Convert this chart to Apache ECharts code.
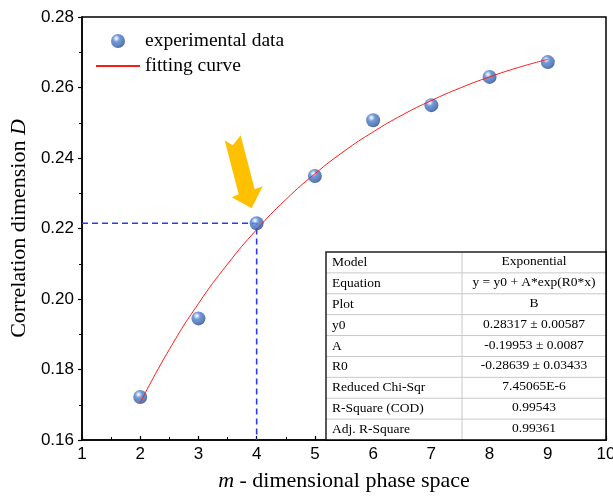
<!DOCTYPE html>
<html>
<head>
  <meta charset="utf-8">
  <title>Correlation dimension</title>
  <script src="https://cdn.jsdelivr.net/npm/echarts@6/dist/echarts.min.js"></script>
  <style>
    html, body { margin: 0; padding: 0; background: #fff; }
  </style>
</head>
<body>
<div id="main" style="width: 613px;height:498px;"></div>
<script type="text/javascript">
  // measured points
  var mDims = [2, 3, 4, 5, 6, 7, 8, 9];
  var corrDim = [0.1722, 0.1945, 0.2215, 0.2349, 0.2507, 0.2550, 0.2630, 0.2672];

  // fitted curve
  var fitX = [2, 2.5, 3, 3.5, 4, 4.5, 5, 5.5, 6, 6.5, 7, 7.5, 8, 8.5, 9];
  var fitY = [0.1706, 0.1857, 0.1987, 0.2099, 0.2197, 0.2282, 0.2355, 0.2419,
              0.2474, 0.2522, 0.2563, 0.2599, 0.2630, 0.2657, 0.2680];

  // the marked point (guide lines)
  var markX = 4;
  var markY = 0.2215;

  var yTicks = ['0.16', '0.18', '0.20', '0.22', '0.24', '0.26', '0.28'];

  // fit report
  var tableLabels = ['Model', 'Equation', 'Plot', 'y0', 'A', 'R0',
                     'Reduced Chi-Sqr', 'R-Square (COD)', 'Adj. R-Square'];
  var tableValues = ['Exponential', 'y = y0 + A*exp(R0*x)', 'B',
                     '0.28317 \u00b1 0.00587', '-0.19953 \u00b1 0.0087', '-0.28639 \u00b1 0.03433',
                     '7.45065E-6', '0.99543', '0.99361'];

  var serif = '"Liberation Serif", "DejaVu Serif", serif';
  var sans = '"Liberation Sans", Arial, sans-serif';

  var sphere = {
    type: 'radial', x: 0.38, y: 0.32, r: 0.72,
    colorStops: [
      { offset: 0, color: '#ffffff' },
      { offset: 0.12, color: '#c9d8f2' },
      { offset: 0.35, color: '#4f7fcc' },
      { offset: 0.75, color: '#3763b0' },
      { offset: 1, color: '#213f78' }
    ]
  };

  var myChart = echarts.init(document.getElementById('main'));

  var option = {
    animation: false,
    grid: {
      left: 82, right: 7, top: 17, bottom: 58,
      outerBoundsMode: 'none',
      show: true, borderColor: '#000', borderWidth: 1.5
    },
    legend: {
      orient: 'vertical',
      left: 90, top: 26,
      itemWidth: 44, itemHeight: 14, itemGap: 5,
      textStyle: { fontFamily: serif, fontSize: 19.5, color: '#000' },
      data: [
        { name: 'experimental data', icon: 'circle' },
        { name: 'fitting curve', itemStyle: { opacity: 0 } }
      ]
    },
    xAxis: {
      type: 'value',
      min: 1, max: 10, interval: 1,
      name: '{i|m}{n| - dimensional phase space}',
      nameLocation: 'middle',
      nameGap: 30,
      nameTextStyle: {
        rich: {
          i: { fontFamily: serif, fontSize: 22, fontStyle: 'italic', color: '#000' },
          n: { fontFamily: serif, fontSize: 22, color: '#000' }
        }
      },
      axisLine: { lineStyle: { color: '#000', width: 1.5 } },
      axisTick: { inside: true, length: 4, lineStyle: { color: '#000', width: 1.2 } },
      minorTick: { show: true, splitNumber: 2, length: 3, lineStyle: { color: '#000', width: 1 } },
      axisLabel: { fontFamily: sans, fontSize: 17, color: '#000', margin: 6, showMaxLabel: true },
      splitLine: { show: false }
    },
    yAxis: {
      type: 'value',
      min: 0.16, max: 0.28, interval: 0.02,
      name: '{n|Correlation dimension }{i|D}',
      nameLocation: 'middle',
      nameGap: 42,
      nameTextStyle: {
        rich: {
          i: { fontFamily: serif, fontSize: 22, fontStyle: 'italic', color: '#000' },
          n: { fontFamily: serif, fontSize: 22, color: '#000' }
        }
      },
      axisLine: { show: true, lineStyle: { color: '#000', width: 1.5 } },
      axisTick: { show: true, inside: false, length: 4, lineStyle: { color: '#000', width: 1.2 } },
      minorTick: { show: true, splitNumber: 2, length: 3, lineStyle: { color: '#000', width: 1 } },
      axisLabel: {
        fontFamily: sans, fontSize: 17, color: '#000', margin: 8,
        formatter: function (v) {
          var i = Math.round((v - 0.16) / 0.02);
          return yTicks[i] !== undefined ? yTicks[i] : v.toFixed(2);
        }
      },
      splitLine: { show: false }
    },
    series: [
      {
        name: 'guide',
        type: 'line',
        data: [[1, markY], [markX, markY], [markX, 0.16]],
        symbol: 'none',
        silent: true,
        lineStyle: { color: '#2a3cf0', width: 1.6, type: [6, 4] },
        z: 1
      },
      {
        name: 'fitting curve',
        type: 'line',
        smooth: true,
        symbol: 'none',
        data: fitX.map(function (x, i) { return [x, fitY[i]]; }),
        lineStyle: { color: '#ff1a1a', width: 1 },
        itemStyle: { color: '#ff1a1a' },
        z: 3
      },
      {
        name: 'experimental data',
        type: 'scatter',
        symbolSize: 14,
        data: mDims.map(function (x, i) { return [x, corrDim[i]]; }),
        itemStyle: { color: sphere },
        z: 2
      }
    ]
  };

  myChart.setOption(option);

  // arrow pointing at the marked point, and the fit table
  var p = myChart.convertToPixel({ gridIndex: 0 }, [markX, markY]);
  var tip = [p[0] - 5, p[1] - 15];
  var arrowShape = [[0, 0], [-20, -11], [-13, -14], [-27, -68], [-19, -63], [-11, -73], [3, -19], [11, -22]];

  var graphics = [{
    type: 'polygon',
    shape: { points: arrowShape.map(function (q) { return [tip[0] + q[0], tip[1] + q[1]]; }) },
    style: { fill: '#ffc000' },
    z: 100
  }];

  var br = myChart.convertToPixel({ gridIndex: 0 }, [10, 0.16]);
  var tRight = br[0], tBottom = br[1];
  var tLeft = 326, tTop = 252, tMid = 462;
  var rowH = (tBottom - tTop) / tableLabels.length;

  graphics.push({
    type: 'rect',
    shape: { x: tLeft, y: tTop, width: tRight - tLeft, height: tBottom - tTop },
    style: { fill: '#fff', stroke: null },
    z: 101
  });
  for (var i = 1; i < tableLabels.length; i++) {
    graphics.push({
      type: 'line',
      shape: { x1: tLeft, y1: tTop + i * rowH, x2: tRight, y2: tTop + i * rowH },
      style: { stroke: '#c8c8c8', lineWidth: 1 },
      z: 102
    });
  }
  graphics.push({
    type: 'line',
    shape: { x1: tMid, y1: tTop, x2: tMid, y2: tBottom },
    style: { stroke: '#c8c8c8', lineWidth: 1 },
    z: 102
  });
  graphics.push({
    type: 'polyline',
    shape: { points: [[tLeft, tBottom], [tLeft, tTop], [tRight, tTop]] },
    style: { stroke: '#222', lineWidth: 1.5, fill: null },
    z: 103
  });
  tableLabels.forEach(function (label, i) {
    var cy = tTop + (i + 0.5) * rowH;
    graphics.push({
      type: 'text',
      x: tLeft + 6, y: cy,
      style: { text: label, font: '13.5px ' + serif, fill: '#000', verticalAlign: 'middle' },
      z: 104
    });
    graphics.push({
      type: 'text',
      x: (tMid + tRight) / 2, y: cy - 1,
      style: { text: tableValues[i], font: '13.5px ' + serif, fill: '#000', align: 'center', verticalAlign: 'middle' },
      z: 104
    });
  });
  // plot frame edges over the table
  graphics.push({
    type: 'polyline',
    shape: { points: [[tLeft, tBottom], [tRight, tBottom], [tRight, tTop - 1]] },
    style: { stroke: '#000', lineWidth: 1.5, fill: null },
    z: 105
  });

  myChart.setOption({ graphic: graphics });
</script>
</body>
</html>
